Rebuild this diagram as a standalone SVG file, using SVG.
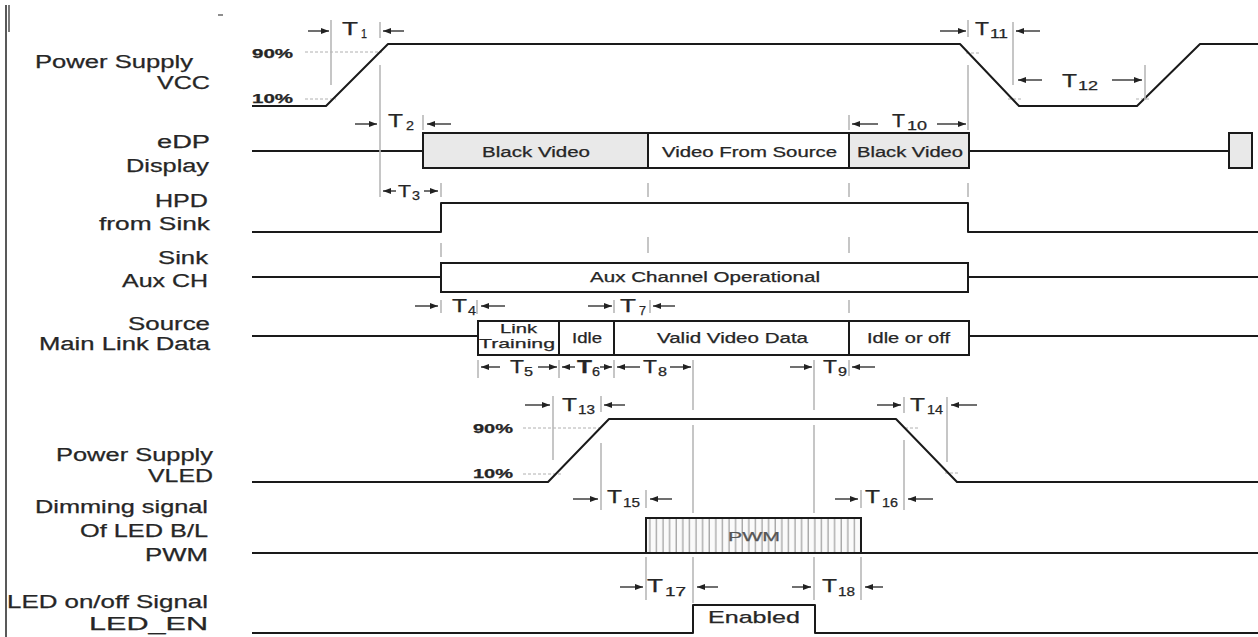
<svg xmlns="http://www.w3.org/2000/svg" width="1258" height="637" viewBox="0 0 1258 637">
<style>
.sig{stroke:#1a1a1a;stroke-width:2;fill:none;stroke-linejoin:round}
.box{stroke:#1a1a1a;stroke-width:2}
.gray{fill:#e9e9e9}
.wh{fill:#ffffff}
.mk{stroke:#b8b8b8;stroke-width:1.6;fill:none}
.dsh{stroke:#b0b0b0;stroke-width:1;stroke-dasharray:3 2;fill:none}
.ar{stroke:#222;stroke-width:1.3;fill:none;marker-end:url(#ah)}
text{font-family:"Liberation Sans",Arial,sans-serif;fill:#262626;stroke:#262626;stroke-width:0.25}
.lbl{font-size:18px}
.in{font-size:14px}
.pct{font-size:12px;font-weight:bold}
.t{font-size:18px}
.s{font-size:12px}
</style>
<defs>
<marker id="ah" markerUnits="userSpaceOnUse" markerWidth="8" markerHeight="6" refX="8" refY="3" orient="auto">
<path d="M0,0 L8,3 L0,6 z" fill="#222"/>
</marker>
<pattern id="hatch" patternUnits="userSpaceOnUse" width="6.6" height="10">
<rect width="6.6" height="10" fill="#fafafa"/>
<line x1="3" y1="0" x2="3" y2="10" stroke="#8a8a8a" stroke-width="1"/>
</pattern>
</defs>
<rect width="1258" height="637" fill="#ffffff"/>

<g id="frame">
<line x1="6" y1="5" x2="6" y2="637" stroke="#222" stroke-width="1.5"/>
<line x1="9" y1="5" x2="9" y2="32" stroke="#222" stroke-width="1.2"/>
<line x1="218" y1="15" x2="223" y2="15" stroke="#444" stroke-width="1.2"/>
</g>

<g id="labels">
<text class="lbl" x="35" y="68" textLength="158" lengthAdjust="spacingAndGlyphs">Power Supply</text>
<text class="lbl" x="157" y="89" textLength="53" lengthAdjust="spacingAndGlyphs">VCC</text>
<text class="lbl" x="157" y="148" textLength="53" lengthAdjust="spacingAndGlyphs">eDP</text>
<text class="lbl" x="126" y="172" textLength="83" lengthAdjust="spacingAndGlyphs">Display</text>
<text class="lbl" x="155" y="207" textLength="53" lengthAdjust="spacingAndGlyphs">HPD</text>
<text class="lbl" x="99" y="230" textLength="111" lengthAdjust="spacingAndGlyphs">from Sink</text>
<text class="lbl" x="158" y="264" textLength="50" lengthAdjust="spacingAndGlyphs">Sink</text>
<text class="lbl" x="122" y="287" textLength="86" lengthAdjust="spacingAndGlyphs">Aux CH</text>
<text class="lbl" x="128" y="330" textLength="82" lengthAdjust="spacingAndGlyphs">Source</text>
<text class="lbl" x="39" y="350" textLength="171" lengthAdjust="spacingAndGlyphs">Main Link Data</text>
<text class="lbl" x="56" y="461" textLength="157" lengthAdjust="spacingAndGlyphs">Power Supply</text>
<text class="lbl" x="148" y="482" textLength="65" lengthAdjust="spacingAndGlyphs">VLED</text>
<text class="lbl" x="35" y="513" textLength="173" lengthAdjust="spacingAndGlyphs">Dimming signal</text>
<text class="lbl" x="80" y="537" textLength="128" lengthAdjust="spacingAndGlyphs">Of LED B/L</text>
<text class="lbl" x="145" y="561" textLength="63" lengthAdjust="spacingAndGlyphs">PWM</text>
<text class="lbl" x="7" y="608" textLength="201" lengthAdjust="spacingAndGlyphs">LED on/off Signal</text>
<text class="lbl" x="89" y="630" textLength="119" lengthAdjust="spacingAndGlyphs">LED_EN</text>
</g>

<g id="sig-vcc">
<line class="dsh" x1="305" y1="52" x2="382" y2="52"/>
<line class="dsh" x1="305" y1="99" x2="336" y2="99"/>
<line class="dsh" x1="966" y1="53" x2="980" y2="53"/>
<line class="dsh" x1="1008" y1="99" x2="1022" y2="99"/>
<line class="dsh" x1="1136" y1="99" x2="1150" y2="99"/>
<path class="sig" d="M252,106 H326 L388,44 H960 L1019,106 H1137 L1200,44 H1258"/>
<text class="pct" x="252" y="58" textLength="41" lengthAdjust="spacingAndGlyphs">90%</text>
<text class="pct" x="252" y="103" textLength="41" lengthAdjust="spacingAndGlyphs">10%</text>
</g>

<g id="sig-edp">
<path class="sig" d="M252,151 H423"/>
<path class="sig" d="M969,151 H1229"/>
<rect class="box gray" x="423" y="133" width="225" height="35"/>
<rect class="box wh" x="648" y="133" width="201" height="35"/>
<rect class="box gray" x="849" y="133" width="120" height="35"/>
<rect class="box gray" x="1229" y="133" width="23" height="35"/>
<text class="in" x="482" y="157" textLength="108" lengthAdjust="spacingAndGlyphs">Black Video</text>
<text class="in" x="662" y="157" textLength="175" lengthAdjust="spacingAndGlyphs">Video From Source</text>
<text class="in" x="857" y="157" textLength="106" lengthAdjust="spacingAndGlyphs">Black Video</text>
</g>

<g id="sig-hpd">
<path class="sig" d="M252,232 H441 V203 H968 V232 H1258"/>
</g>

<g id="sig-aux">
<path class="sig" d="M252,277 H441"/>
<rect class="box" fill="#fff" x="441" y="263" width="527" height="29"/>
<path class="sig" d="M968,277 H1258"/>
<text class="in" x="590" y="282" textLength="230" lengthAdjust="spacingAndGlyphs">Aux Channel Operational</text>
</g>

<g id="sig-main">
<path class="sig" d="M252,336 H478"/>
<rect class="box" fill="#fff" x="478" y="321" width="491" height="34"/>
<line class="box" x1="559" y1="321" x2="559" y2="355"/>
<line class="box" x1="614" y1="321" x2="614" y2="355"/>
<line class="box" x1="849" y1="321" x2="849" y2="355"/>
<path class="sig" d="M969,336 H1258"/>
<text class="in" style="font-size:13px" x="500" y="333" textLength="37" lengthAdjust="spacingAndGlyphs">Link</text>
<text class="in" style="font-size:13px" x="479" y="348" textLength="76" lengthAdjust="spacingAndGlyphs">Training</text>
<text class="in" x="572" y="343" textLength="30" lengthAdjust="spacingAndGlyphs">Idle</text>
<text class="in" x="657" y="343" textLength="151" lengthAdjust="spacingAndGlyphs">Valid Video Data</text>
<text class="in" x="867" y="343" textLength="83" lengthAdjust="spacingAndGlyphs">Idle or off</text>
</g>

<g id="sig-vled">
<line class="dsh" x1="523" y1="428" x2="603" y2="428"/>
<line class="dsh" x1="523" y1="474" x2="563" y2="474"/>
<line class="dsh" x1="905" y1="428" x2="918" y2="428"/>
<line class="dsh" x1="945" y1="473" x2="958" y2="473"/>
<path class="sig" d="M252,482 H548 L609,419 H896 L957,482 H1258"/>
<text class="pct" x="473" y="433" textLength="40" lengthAdjust="spacingAndGlyphs">90%</text>
<text class="pct" x="473" y="478" textLength="40" lengthAdjust="spacingAndGlyphs">10%</text>
</g>

<g id="sig-pwm">
<path class="sig" d="M252,553 H646"/>
<rect class="box" fill="url(#hatch)" x="646" y="518" width="215" height="35"/>
<path class="sig" d="M861,553 H1258"/>
<text class="in" style="font-size:13px;fill:#555;stroke:#555" x="728" y="541" textLength="52" lengthAdjust="spacingAndGlyphs">PWM</text>
</g>

<g id="sig-leden">
<path class="sig" d="M252,633 H693 V605 H815 V633 H1258"/>
<text class="in" style="font-size:17px" x="708" y="623" textLength="92" lengthAdjust="spacingAndGlyphs">Enabled</text>
</g>

<g id="connectors">
<path class="mk" d="M331,20 V85 M380,22 V38 M380,65 V197 M423,115 V130
M441,183 V197 M441,243 V257 M441,300 V313 M477,300 V314 M614,300 V313 M650,300 V313
M648,183 V197 M648,237 V253 M849,115 V130 M849,183 V197 M849,237 V253 M849,300 V313 M849,360 V376
M968,20 V37 M968,65 V130 M968,183 V197 M1013,22 V85 M1145,65 V100
M478,360 V378 M559,360 V378 M614,360 V378
M693,360 V410 M693,425 V513 M693,557 V603
M814,360 V410 M814,425 V513 M814,557 V600
M553,396 V460 M601,396 V412 M601,443 V510
M904,397 V413 M904,440 V510 M947,397 V462
M646,490 V508 M646,557 V600 M861,490 V508 M861,557 V600"/>
<line class="ar" x1="308" y1="31" x2="329" y2="31"/>
<line class="ar" x1="404" y1="31" x2="383" y2="31"/>
<line class="ar" x1="940" y1="31" x2="966" y2="31"/>
<line class="ar" x1="1040" y1="31" x2="1016" y2="31"/>
<line class="ar" x1="1042" y1="80" x2="1018" y2="80"/>
<line class="ar" x1="1112" y1="80" x2="1142" y2="80"/>
<line class="ar" x1="355" y1="124" x2="377" y2="124"/>
<line class="ar" x1="451" y1="124" x2="427" y2="124"/>
<line class="ar" x1="878" y1="124" x2="852" y2="124"/>
<line class="ar" x1="937" y1="124" x2="966" y2="124"/>
<line class="ar" x1="396" y1="191" x2="383" y2="191"/>
<line class="ar" x1="424" y1="191" x2="438" y2="191"/>
<line class="ar" x1="415" y1="306" x2="438" y2="306"/>
<line class="ar" x1="505" y1="306" x2="481" y2="306"/>
<line class="ar" x1="588" y1="306" x2="612" y2="306"/>
<line class="ar" x1="675" y1="306" x2="653" y2="306"/>
<line class="ar" x1="500" y1="367" x2="481" y2="367"/>
<line class="ar" x1="538" y1="367" x2="557" y2="367"/>
<line class="ar" x1="575" y1="367" x2="562" y2="367"/>
<line class="ar" x1="600" y1="367" x2="612" y2="367"/>
<line class="ar" x1="640" y1="367" x2="617" y2="367"/>
<line class="ar" x1="670" y1="367" x2="691" y2="367"/>
<line class="ar" x1="790" y1="367" x2="812" y2="367"/>
<line class="ar" x1="875" y1="367" x2="852" y2="367"/>
<line class="ar" x1="525" y1="405" x2="550" y2="405"/>
<line class="ar" x1="625" y1="405" x2="604" y2="405"/>
<line class="ar" x1="877" y1="405" x2="901" y2="405"/>
<line class="ar" x1="977" y1="405" x2="951" y2="405"/>
<line class="ar" x1="573" y1="499" x2="598" y2="499"/>
<line class="ar" x1="672" y1="499" x2="650" y2="499"/>
<line class="ar" x1="835" y1="499" x2="858" y2="499"/>
<line class="ar" x1="933" y1="499" x2="908" y2="499"/>
<line class="ar" x1="620" y1="587" x2="643" y2="587"/>
<line class="ar" x1="718" y1="587" x2="697" y2="587"/>
<line class="ar" x1="792" y1="587" x2="811" y2="587"/>
<line class="ar" x1="883" y1="587" x2="865" y2="587"/>
</g>

<g id="timing-labels">
<text class="t" x="342" y="35" textLength="16" lengthAdjust="spacingAndGlyphs">T</text><text class="s" x="361" y="38" textLength="6" lengthAdjust="spacingAndGlyphs">1</text>
<text class="t" x="388" y="127" textLength="15" lengthAdjust="spacingAndGlyphs">T</text><text class="s" x="406" y="130" textLength="8" lengthAdjust="spacingAndGlyphs">2</text>
<text class="t" style="font-size:16px" x="398" y="197" textLength="13" lengthAdjust="spacingAndGlyphs">T</text><text class="s" x="412" y="200" textLength="8" lengthAdjust="spacingAndGlyphs">3</text>
<text class="t" x="452" y="312" textLength="15" lengthAdjust="spacingAndGlyphs">T</text><text class="s" x="468" y="315" textLength="8" lengthAdjust="spacingAndGlyphs">4</text>
<text class="t" x="510" y="373" textLength="14" lengthAdjust="spacingAndGlyphs">T</text><text class="s" x="524" y="376" textLength="9" lengthAdjust="spacingAndGlyphs">5</text>
<text class="t" style="font-weight:bold" x="577" y="373" textLength="15" lengthAdjust="spacingAndGlyphs">T</text><text class="s" x="592" y="376" textLength="8" lengthAdjust="spacingAndGlyphs">6</text>
<text class="t" x="620" y="312" textLength="16" lengthAdjust="spacingAndGlyphs">T</text><text class="s" x="639" y="315" textLength="7" lengthAdjust="spacingAndGlyphs">7</text>
<text class="t" x="643" y="373" textLength="14" lengthAdjust="spacingAndGlyphs">T</text><text class="s" x="658" y="376" textLength="9" lengthAdjust="spacingAndGlyphs">8</text>
<text class="t" x="823" y="373" textLength="14" lengthAdjust="spacingAndGlyphs">T</text><text class="s" x="838" y="376" textLength="9" lengthAdjust="spacingAndGlyphs">9</text>
<text class="t" x="892" y="127" textLength="13" lengthAdjust="spacingAndGlyphs">T</text><text class="s" x="907" y="130" textLength="20" lengthAdjust="spacingAndGlyphs">10</text>
<text class="t" x="975" y="35" textLength="14" lengthAdjust="spacingAndGlyphs">T</text><text class="s" x="990" y="38" textLength="18" lengthAdjust="spacingAndGlyphs">11</text>
<text class="t" x="1062" y="87" textLength="15" lengthAdjust="spacingAndGlyphs">T</text><text class="s" x="1078" y="90" textLength="20" lengthAdjust="spacingAndGlyphs">12</text>
<text class="t" x="562" y="411" textLength="15" lengthAdjust="spacingAndGlyphs">T</text><text class="s" x="578" y="414" textLength="17" lengthAdjust="spacingAndGlyphs">13</text>
<text class="t" x="910" y="411" textLength="15" lengthAdjust="spacingAndGlyphs">T</text><text class="s" x="927" y="414" textLength="16" lengthAdjust="spacingAndGlyphs">14</text>
<text class="t" x="607" y="503" textLength="15" lengthAdjust="spacingAndGlyphs">T</text><text class="s" x="623" y="507" textLength="17" lengthAdjust="spacingAndGlyphs">15</text>
<text class="t" x="865" y="503" textLength="15" lengthAdjust="spacingAndGlyphs">T</text><text class="s" x="882" y="507" textLength="16" lengthAdjust="spacingAndGlyphs">16</text>
<text class="t" x="647" y="592" textLength="16" lengthAdjust="spacingAndGlyphs">T</text><text class="s" x="665" y="596" textLength="21" lengthAdjust="spacingAndGlyphs">17</text>
<text class="t" x="822" y="592" textLength="15" lengthAdjust="spacingAndGlyphs">T</text><text class="s" x="838" y="596" textLength="17" lengthAdjust="spacingAndGlyphs">18</text>
</g>
</svg>
